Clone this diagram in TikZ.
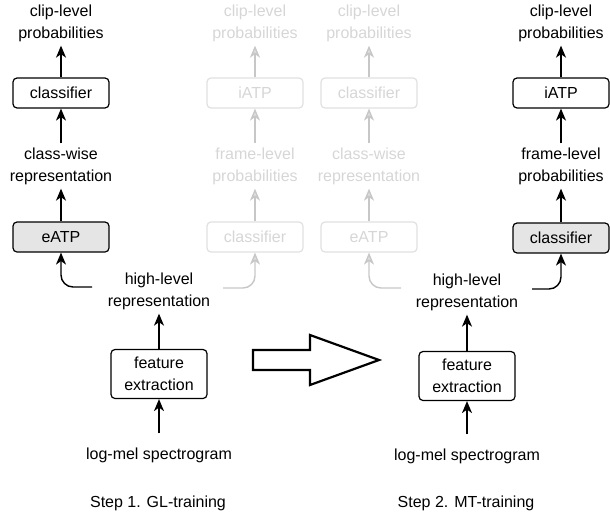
\documentclass[tikz,border=0pt]{standalone}
\usepackage{fontspec}
\setmainfont{Liberation Sans}
\usetikzlibrary{arrows.meta}
\definecolor{fadetext}{gray}{0.84}
\definecolor{fadebox}{gray}{0.88}
\definecolor{fadearrow}{gray}{0.78}
\definecolor{boxfill}{gray}{0.9}
\tikzset{
  txt/.style={align=center, inner sep=4pt, font=\fontsize{16}{22}\selectfont},
  fadetxt/.style={txt, text=fadetext},
  blk/.style={draw, line width=1.2pt, rounded corners=4pt, minimum width=96pt, minimum height=30pt, inner sep=2pt, font=\fontsize{16}{22}\selectfont, align=center},
  fadeblk/.style={blk, draw=fadebox, text=fadetext},
  conn/.style={line width=1.4pt, -{Stealth[length=12pt, width=10pt, inset=3.5pt]}},
  fadeconn/.style={conn, draw=fadearrow, -{Stealth[length=12pt, width=10pt, inset=3.5pt, fill=fadebox]}},
}
\begin{document}
\begin{tikzpicture}[x=1pt, y=-1pt]
\useasboundingbox (0,0) rectangle (610,514);

% Column 1 (GL-training head)
\node[txt] (clip1) at (61,23) {clip-level\\probabilities};
\node[blk] (cls1) at (61,93) {classifier};
\node[txt] (cw1) at (61,166) {class-wise\\representation};
\node[blk, fill=boxfill] (eatp1) at (61,237) {eATP};
\coordinate (c1) at (92,287);

% Column 2 (faded)
\node[fadetxt] (clip2) at (255,23) {clip-level\\probabilities};
\node[fadeblk] (iatp2) at (255,93) {iATP};
\node[fadetxt] (fl2) at (255,166) {frame-level\\probabilities};
\node[fadeblk] (cls2) at (255,237) {classifier};
\coordinate (c2) at (223,288);

% Column 3 (faded)
\node[fadetxt] (clip3) at (369,23) {clip-level\\probabilities};
\node[fadeblk] (cls3) at (369,93) {classifier};
\node[fadetxt] (cw3) at (369,166) {class-wise\\representation};
\node[fadeblk] (eatp3) at (369,237) {eATP};
\coordinate (c3) at (401,288);

% Column 4 (MT-training head)
\node[txt] (clip4) at (561,23) {clip-level\\probabilities};
\node[blk] (iatp4) at (561,93) {iATP};
\node[txt] (fl4) at (561,166) {frame-level\\probabilities};
\node[blk, fill=boxfill] (cls4) at (561,238) {classifier};
\coordinate (c4) at (532,289);

% Left trunk
\node[txt] (hl1) at (159,291) {high-level\\representation};
\node[blk, minimum width=96pt, minimum height=49pt] (fe1) at (159,374) {feature\\extraction};
\node[txt] (lm1) at (159,455) {log-mel spectrogram};
\node[txt] (step1) at (158,503) {Step 1. GL-training};

% Right trunk
\node[txt] (hl2) at (467,292) {high-level\\representation};
\node[blk, minimum width=96pt, minimum height=49pt] (fe2) at (467,376) {feature\\extraction};
\node[txt] (lm2) at (467,456) {log-mel spectrogram};
\node[txt] (step2) at (466,503) {Step 2. MT-training};

% Connectors column 1
\draw[conn] (cls1.north) -- (clip1.south);
\draw[conn] (cw1.north) -- (cls1.south);
\draw[conn] (eatp1.north) -- (cw1.south);
\draw[conn, rounded corners=12pt] (c1) -| (eatp1.south);

% Connectors column 2
\draw[fadeconn] (iatp2.north) -- (clip2.south);
\draw[fadeconn] (fl2.north) -- (iatp2.south);
\draw[fadeconn] (cls2.north) -- (fl2.south);
\draw[fadeconn, rounded corners=12pt] (c2) -| (cls2.south);

% Connectors column 3
\draw[fadeconn] (cls3.north) -- (clip3.south);
\draw[fadeconn] (cw3.north) -- (cls3.south);
\draw[fadeconn] (eatp3.north) -- (cw3.south);
\draw[fadeconn, rounded corners=12pt] (c3) -| (eatp3.south);

% Connectors column 4
\draw[conn] (iatp4.north) -- (clip4.south);
\draw[conn] (fl4.north) -- (iatp4.south);
\draw[conn] (cls4.north) -- (fl4.south);
\draw[conn, rounded corners=12pt] (c4) -| (cls4.south);

% Trunk connectors
\draw[conn] (fe1.north) -- (hl1.south);
\draw[conn] ([yshift=10pt]lm1.north) -- (fe1.south);
\draw[conn] (fe2.north) -- (hl2.south);
\draw[conn] ([yshift=10pt]lm2.north) -- (fe2.south);

% Hollow block arrow
\draw[line width=2.2pt, line join=miter] (253,350) -- (310,350) -- (310,335) -- (379,360) -- (310,385) -- (310,370) -- (253,370) -- cycle;
\end{tikzpicture}
\end{document}
